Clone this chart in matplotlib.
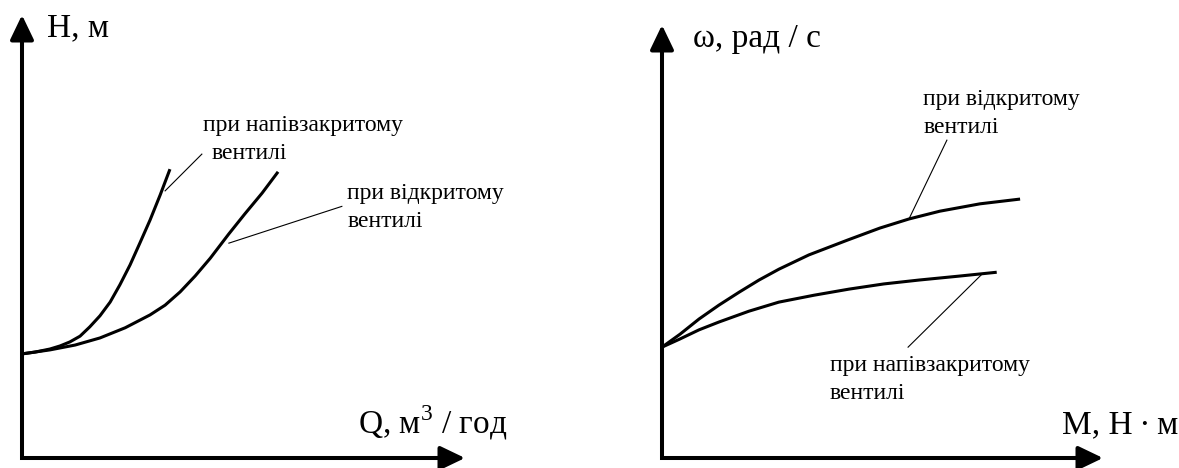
import matplotlib
matplotlib.use("Agg")
import matplotlib.pyplot as plt

plt.rcParams['font.family'] = ['Liberation Serif', 'DejaVu Serif']
plt.rcParams['mathtext.fontset'] = 'custom'
plt.rcParams['mathtext.rm'] = 'Liberation Serif'

# Напір H(Q) насоса
q_half = [0.0, 0.29, 0.63, 0.86, 1.08, 1.31, 1.53, 1.76, 1.99, 2.21, 2.44, 2.66, 2.89, 3.12, 3.34]
h_half = [2.35, 2.39, 2.46, 2.53, 2.62, 2.75, 2.96, 3.21, 3.52, 3.91, 4.36, 4.85, 5.37, 5.94, 6.52]
q_open = [0.0, 0.63, 1.20, 1.76, 2.33, 2.89, 3.23, 3.57, 3.91, 4.25, 4.67, 5.03, 5.42, 5.78]
h_open = [2.35, 2.44, 2.55, 2.71, 2.94, 3.23, 3.45, 3.75, 4.11, 4.51, 5.06, 5.51, 5.98, 6.46]

# Швидкість двигуна w(M)
m_open = [0.0, 0.41, 0.84, 1.29, 1.75, 2.20, 2.65, 3.33, 4.20, 4.94, 5.60, 6.30, 7.21, 8.12]
w_open = [2.56, 2.86, 3.21, 3.53, 3.83, 4.11, 4.36, 4.69, 5.03, 5.31, 5.52, 5.70, 5.87, 5.98]
m_half = [0.0, 0.41, 0.84, 1.29, 1.97, 2.65, 3.45, 4.24, 5.03, 5.83, 6.73, 7.59]
w_half = [2.56, 2.75, 2.96, 3.14, 3.39, 3.60, 3.76, 3.90, 4.02, 4.11, 4.20, 4.29]

LW_AX = 2.9
LW_CURVE = 2.2
LW_LEAD = 0.8
FS_AX = 24
FS_TXT = 17

fig = plt.figure(figsize=(11.79, 4.68), dpi=100)
W, H = 1179, 468

ax1 = fig.add_axes([22 / W, 10 / H, 443 / W, 443 / H])
ax2 = fig.add_axes([662 / W, 10 / H, 441 / W, 433 / H])


def draw_frame(ax, ylab, xlab, ylab_pos, xlab_pos):
    ax.set_xlim(0, 10)
    ax.set_ylim(0, 10)
    ax.axis('off')
    ax.plot([0, 0, 9.5], [9.5, 0, 0], color='k', lw=LW_AX,
            solid_joinstyle='miter', solid_capstyle='butt', clip_on=False)
    style = '-|>,head_length=0.75,head_width=0.36'
    ax.annotate('', xy=(0, 10), xytext=(0, 9.3),
                arrowprops=dict(arrowstyle=style, mutation_scale=20, lw=LW_AX,
                                color='k', shrinkA=0, shrinkB=0),
                annotation_clip=False)
    ax.annotate('', xy=(10, 0), xytext=(9.3, 0),
                arrowprops=dict(arrowstyle=style, mutation_scale=20, lw=LW_AX,
                                color='k', shrinkA=0, shrinkB=0),
                annotation_clip=False)
    ax.text(ylab_pos[0], ylab_pos[1], ylab, fontsize=FS_AX, va='baseline', ha='left')
    ax.text(xlab_pos[0], xlab_pos[1], xlab, fontsize=FS_AX, va='baseline', ha='left',
            clip_on=False)


def label(ax, x, y, lines, dy):
    for i, s in enumerate(lines):
        ax.text(x[i], y - i * dy, s, fontsize=FS_TXT, va='baseline', ha='left')


# ліва діаграма
draw_frame(ax1, 'H, м', r'Q, м$^{3}$ / год', (0.56, 9.53), (7.58, 0.56))
ax1.plot(q_half, h_half, color='k', lw=LW_CURVE, solid_capstyle='butt')
ax1.plot(q_open, h_open, color='k', lw=LW_CURVE, solid_capstyle='butt')
ax1.plot([3.23, 4.06], [6.03, 6.86], color='k', lw=LW_LEAD)
ax1.plot([4.67, 7.22], [4.85, 5.68], color='k', lw=LW_LEAD)
label(ax1, [4.09, 4.29], 7.38, ['при напівзакритому', 'вентилі'], 0.63)
label(ax1, [7.34, 7.34], 5.85, ['при відкритому', 'вентилі'], 0.63)

# права діаграма
draw_frame(ax2, 'ω, рад / с', 'M, H\u2009·\u2009м', (0.70, 9.49), (9.07, 0.58))
ax2.plot(m_open, w_open, color='k', lw=LW_CURVE, solid_capstyle='butt')
ax2.plot(m_half, w_half, color='k', lw=LW_CURVE, solid_capstyle='butt')
ax2.plot([5.60, 6.46], [5.52, 7.34], color='k', lw=LW_LEAD)
ax2.plot([7.26, 5.58], [4.25, 2.56], color='k', lw=LW_LEAD)
label(ax2, [5.92, 5.92], 8.15, ['при відкритому', 'вентилі'], 0.65)
label(ax2, [3.81, 3.81], 2.01, ['при напівзакритому', 'вентилі'], 0.65)

fig.savefig('out.png', dpi=100)
